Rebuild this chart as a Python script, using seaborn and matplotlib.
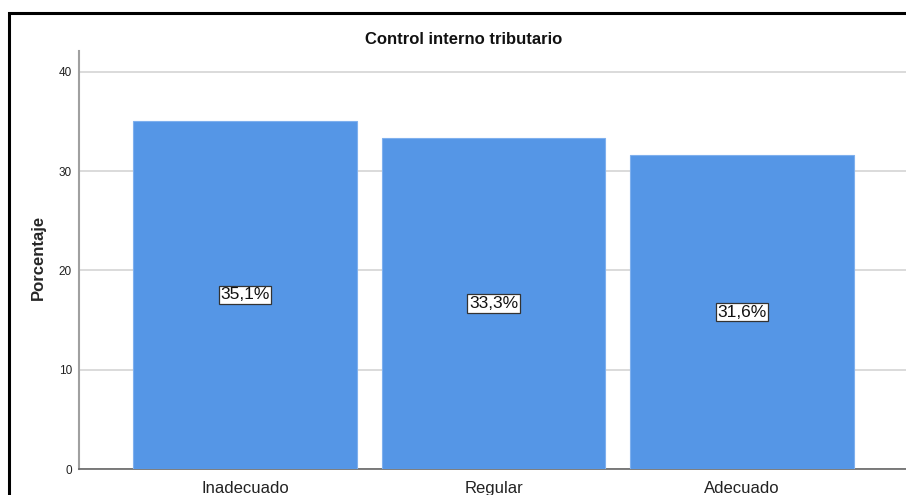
import matplotlib
matplotlib.use("Agg")
import matplotlib.pyplot as plt
import matplotlib.patches as mpatches
import seaborn as sns
import pandas as pd

categories = ["Inadecuado", "Regular", "Adecuado"]
values = [35.1, 33.3, 31.6]
labels = ["35,1%", "33,3%", "31,6%"]
yticks = [0, 10, 20, 30, 40]

sns.set_theme(style="white")
plt.rcParams['font.family'] = ['Liberation Sans', 'DejaVu Sans']

W, H = 906, 495
fig = plt.figure(figsize=(W / 100, H / 100), dpi=100)
ax = fig.add_axes([79 / W, 1 - 469 / H, (908 - 79) / W, (469 - 51) / H])

df = pd.DataFrame({"cat": categories, "val": values})
sns.barplot(data=df, x="cat", y="val", ax=ax, color="#5596E6", saturation=1,
            width=0.90, edgecolor="#7fb0ee", linewidth=0.8, zorder=3)

ax.set_ylim(0, 42.1)
ax.set_xlim(-0.668, 2.668)
ax.set_yticks(yticks)
ax.set_yticklabels([str(t) for t in yticks], fontsize=8.5, color="#222222")
ax.tick_params(axis="y", length=0, pad=5)
ax.tick_params(axis="x", length=0, pad=17, labelsize=12, labelcolor="#222222")
for lbl in ax.get_xticklabels():
    lbl.set_verticalalignment("baseline")
ax.yaxis.grid(True, color="#d4d4d4", linewidth=1.2, zorder=0)
ax.set_axisbelow(True)
ax.set_xlabel("")
ax.set_ylabel("Porcentaje", fontsize=12, fontweight="bold")
ax.yaxis.set_label_coords(-0.040, 0.505)
for s in ["top", "right"]:
    ax.spines[s].set_visible(False)
ax.spines["left"].set_color("#a0a0a0")
ax.spines["left"].set_linewidth(1.5)
ax.spines["bottom"].set_color("#666666")
ax.spines["bottom"].set_linewidth(1.2)

for i, (v, lab) in enumerate(zip(values, labels)):
    ax.text(i, v / 2, lab, ha="center", va="center", fontsize=12.5, color="#111111",
            zorder=5,
            bbox=dict(boxstyle="square,pad=0.1", facecolor="white",
                      edgecolor="#333333", linewidth=0.9))

fig.text(464 / W, 1 - 40 / H, "Control interno tributario", ha="center",
         va="center", fontsize=12, fontweight="bold", color="#111111")

frame = mpatches.Rectangle((9 / W, -0.1), 1.2, 1 - 13 / H + 0.1,
                           transform=fig.transFigure, fill=False,
                           edgecolor="black", linewidth=2.2, zorder=10)
fig.patches.append(frame)

fig.savefig("out.png", dpi=100)
